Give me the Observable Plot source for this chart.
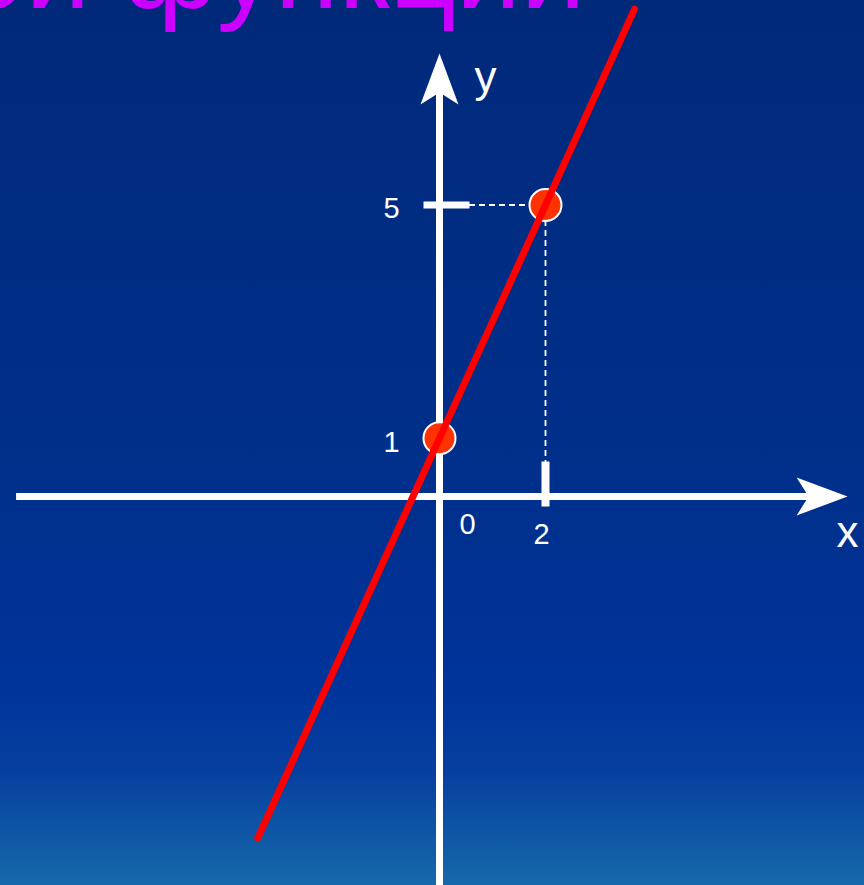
<!DOCTYPE html>
<html><head><meta charset="utf-8">
<script src="https://cdn.jsdelivr.net/npm/d3@7"></script>
<script src="https://cdn.jsdelivr.net/npm/@observablehq/plot@0.6"></script>
<style>
html,body{margin:0;padding:0;background:#00308c;overflow:hidden}
#chart svg{display:block}
</style></head><body><div id="chart"></div>
<script>
// ---- data ----
const titleText = "График линейной функции";
const pointX = [0, 2];
const pointY = [1, 5];
const lineX = [-3.43, 3.68];
const lineY = [-5.86, 8.36];
const xAxisX = [-7.98, 7.0];
const yAxisY = [-6.67, 6.93];
const xArrowTip = 7.70;
const yArrowTip = 7.60;
const xTickValues = [2];
const yTickValues = [5];
const originLabel = ["0"];
const xTickLabels = ["2"];
const yPointLabels = ["1", "5"];
const axisNames = ["x", "y"];

const points = pointX.map((x, i) => ({x, y: pointY[i]}));
const lineData = lineX.map((x, i) => ({x, y: lineY[i]}));
const font = "Liberation Sans, Arial, sans-serif";

const arrowHead = {draw(ctx) {ctx.moveTo(0, 0); ctx.lineTo(19, 51); ctx.lineTo(0, 39); ctx.lineTo(-19, 51); ctx.closePath();}};
const xTickSym = {draw(ctx) {ctx.rect(-4, -35, 8, 45);}};
const yTickSym = {draw(ctx) {ctx.rect(-16, -3.5, 46, 7);}};

const chart = Plot.plot({
  width: 864, height: 885,
  margin: 0,
  x: {domain: [-8.283, 8.019], axis: null},
  y: {domain: [-6.672, 8.508], axis: null},
  style: "background: linear-gradient(to bottom, #01297a 0%, #00308c 55%, #00349b 78%, #063f9f 87%, #1569aa 100%); font-family: " + font + ";",
  marks: [
    Plot.text([titleText], {frameAnchor: "top-left", lineAnchor: "top", text: d => d, textAnchor: "end", dx: 585, dy: -75, fontSize: 116, fill: "#cc00ff", fontFamily: font}),
    // axes
    Plot.ruleY([0], {x1: xAxisX[0], x2: xAxisX[1], stroke: "white", strokeWidth: 7}),
    Plot.ruleX([0], {y1: yAxisY[0], y2: yAxisY[1], stroke: "white", strokeWidth: 7}),
    Plot.dot([{x: 0, y: yArrowTip}], {x: "x", y: "y", symbol: arrowHead, fill: "white", stroke: "none"}),
    Plot.dot([{x: xArrowTip, y: 0}], {x: "x", y: "y", symbol: arrowHead, rotate: 90, fill: "white", stroke: "none"}),
    // dashed guides
    Plot.ruleY(points.filter(d => d.x !== 0), {y: "y", x1: 0, x2: "x", stroke: "white", strokeWidth: 1.8, strokeDasharray: "6,4"}),
    Plot.ruleX(points.filter(d => d.x !== 0), {x: "x", y1: 0, y2: "y", stroke: "white", strokeWidth: 1.8, strokeDasharray: "6,4"}),
    // ticks
    Plot.dot(xTickValues, {x: d => d, y: 0, symbol: xTickSym, fill: "white", stroke: "none"}),
    Plot.dot(yTickValues, {x: 0, y: d => d, symbol: yTickSym, fill: "white", stroke: "none"}),
    // labels
    Plot.text(originLabel, {x: 0, y: 0, text: d => d, dx: 28, dy: 28, fontSize: 29, fill: "white", fontFamily: font}),
    Plot.text(xTickLabels, {x: d => +d, y: 0, text: d => d, dx: -4, dy: 38, fontSize: 29, fill: "white", fontFamily: font}),
    Plot.text(yPointLabels, {x: 0, y: d => +d, text: d => d, dx: -48, dy: 4, fontSize: 29, fill: "white", fontFamily: font}),
    Plot.text([axisNames[0]], {x: xArrowTip, y: 0, text: d => d, dx: 0, dy: 36, fontSize: 44, fill: "white", fontFamily: font}),
    Plot.text([axisNames[1]], {x: 0, y: yArrowTip, text: d => d, dx: 46, dy: 24, fontSize: 44, fill: "white", fontFamily: font}),
    // points and line
    Plot.dot(points, {x: "x", y: "y", r: 16, fill: "#ff3300", stroke: "white", strokeWidth: 2}),
    Plot.line(lineData, {x: "x", y: "y", stroke: "#ff0000", strokeWidth: 7})
  ]
});
document.getElementById("chart").appendChild(chart);
</script></body></html>
